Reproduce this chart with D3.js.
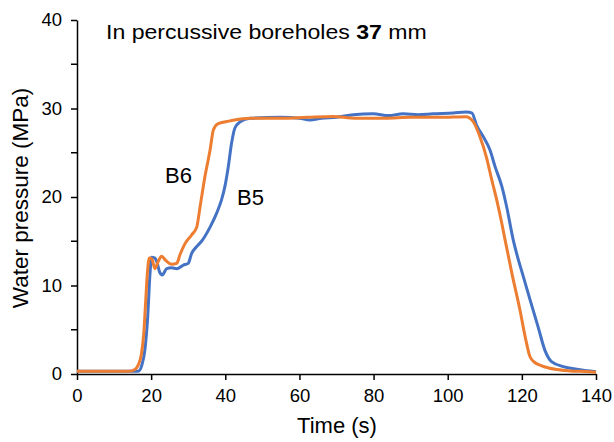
<!DOCTYPE html>
<html>
<head>
<meta charset="utf-8">
<script src="https://cdn.jsdelivr.net/npm/d3@7"></script>
<style>
  html, body { margin: 0; padding: 0; background: #fff; }
  svg text { font-family: "Liberation Sans", Arial, sans-serif; fill: #000; }
</style>
</head>
<body>
<svg id="chart" width="614" height="442"></svg>
<script>
// ---- data ----
const xTicks = [0, 20, 40, 60, 80, 100, 120, 140];
const yTicksMajor = [0, 10, 20, 30, 40];
const yTicksMinor = [5, 15, 25, 35];

const b5Time = [0,5,10,15,16.5,17.5,18.3,19,19.7,20.1,21,21.6,22.3,23,24.2,25.5,26.9,28.7,30,30.9,32.3,33.6,35.9,37.7,39,39.9,40.8,41.7,42.6,44,46.7,55,60,62.8,66,70,74.5,79.9,84,88,92,96,101.5,105,106.5,107.8,109.6,111.4,112.8,114.6,115.9,117.7,118.6,120.4,122.2,124.4,126.2,128,131.2,134.8,140];
const b5Value = [0.3,0.3,0.3,0.3,0.3,1.0,2.7,6,11.4,13.2,13.1,12.6,11.5,11.2,11.9,12.0,11.9,12.3,12.5,13.6,14.4,15,16.6,18.2,19.7,21.2,23.4,26.1,27.8,28.5,28.9,29.0,28.9,28.7,28.9,29.0,29.3,29.4,29.2,29.4,29.3,29.4,29.5,29.6,29.5,28.1,26.8,25.3,23.4,21.2,18.9,15.1,13.6,11,8.4,5.3,2.7,1.4,0.83,0.53,0.26];

const b6Time = [0,5,10,14,15.6,16.5,17.4,18,18.5,19,19.5,20.2,21,22,22.8,24,25.5,26.9,27.8,29.1,30.9,32.3,33.2,34.5,35.9,36.8,38.1,41.3,46.7,55,62,69,75,83,90,98,105,105.6,106.9,108.7,110.5,111.9,113.2,114.6,115.5,117.3,119.5,120.9,122.2,123.5,124.9,127,129.4,133,138.4,140];
const b6Value = [0.3,0.3,0.3,0.3,0.5,1.0,2.3,4.5,8,11.5,13.1,13,11.9,12.8,13.3,12.8,12.4,12.5,13.5,14.7,15.7,16.6,18.9,22.3,25.3,27.6,28.3,28.6,28.9,28.9,29.0,29.1,28.9,28.9,29.0,29.0,29.07,29.0,28.5,26.8,24.4,21.9,19.7,17,15.1,11.4,7.2,4.2,1.95,1.3,1.0,0.7,0.5,0.35,0.26,0.2];

const seriesNames = ["B5", "B6"];
const seriesColors = ["#4472C4", "#ED7D31"];

// ---- chart ----
const svg = d3.select("#chart");
const x = d3.scaleLinear().domain([0, 140]).range([77, 596]);
const y = d3.scaleLinear().domain([0, 40]).range([374, 20]);

// x axis
const xAxis = d3.axisBottom(x).tickValues(xTicks).tickSize(6).tickSizeOuter(0).tickPadding(9);
const gx = svg.append("g").attr("transform", `translate(0,${y(0)})`).call(xAxis);
gx.select(".domain").attr("stroke", "#000").attr("stroke-width", 1.5);
gx.selectAll(".tick line").attr("stroke", "#000").attr("stroke-width", 1.5);
gx.selectAll(".tick text").style("font-size", "18.5px").attr("fill", "#000")
  .style("font-family", '"Liberation Sans", Arial, sans-serif');

// y axis
const yAxis = d3.axisLeft(y).tickValues(yTicksMajor).tickSize(6).tickSizeOuter(0).tickPadding(9);
const gy = svg.append("g").attr("transform", `translate(${x(0)},0)`).call(yAxis);
gy.select(".domain").attr("stroke", "#000").attr("stroke-width", 1.5);
gy.selectAll(".tick line").attr("stroke", "#000").attr("stroke-width", 1.5);
gy.selectAll(".tick text").style("font-size", "18.5px").attr("fill", "#000")
  .style("font-family", '"Liberation Sans", Arial, sans-serif');
// minor ticks
svg.append("g").selectAll("line").data(yTicksMinor).join("line")
  .attr("x1", x(0) - 6).attr("x2", x(0))
  .attr("y1", d => y(d)).attr("y2", d => y(d))
  .attr("stroke", "#000").attr("stroke-width", 1.5);

// lines
const line = d3.line().x(d => x(d[0])).y(d => y(d[1])).curve(d3.curveMonotoneX);
const b5 = b5Time.map((t, i) => [t, b5Value[i]]);
const b6 = b6Time.map((t, i) => [t, b6Value[i]]);
[b5, b6].forEach((data, i) => {
  svg.append("path").datum(data)
    .attr("fill", "none")
    .attr("stroke", seriesColors[i])
    .attr("stroke-width", 3)
    .attr("stroke-linejoin", "round")
    .attr("d", line);
});

// series labels
svg.append("text").attr("x", 165).attr("y", 183).style("font-size", "22px").text(seriesNames[1]);
svg.append("text").attr("x", 237).attr("y", 205).style("font-size", "22px").text(seriesNames[0]);

// title
const title = svg.append("text").attr("transform", "translate(106,39) scale(1.1,1)").style("font-size", "21px");
title.append("tspan").text("In percussive boreholes ");
title.append("tspan").style("font-weight", "bold").text("37");
title.append("tspan").text(" mm");

// axis titles
svg.append("text").attr("x", 337).attr("y", 433).attr("text-anchor", "middle")
  .style("font-size", "22px").text("Time (s)");
svg.append("text").attr("transform", `translate(28,198) rotate(-90)`).attr("text-anchor", "middle")
  .style("font-size", "22.5px").text("Water pressure (MPa)");
</script>
</body>
</html>
